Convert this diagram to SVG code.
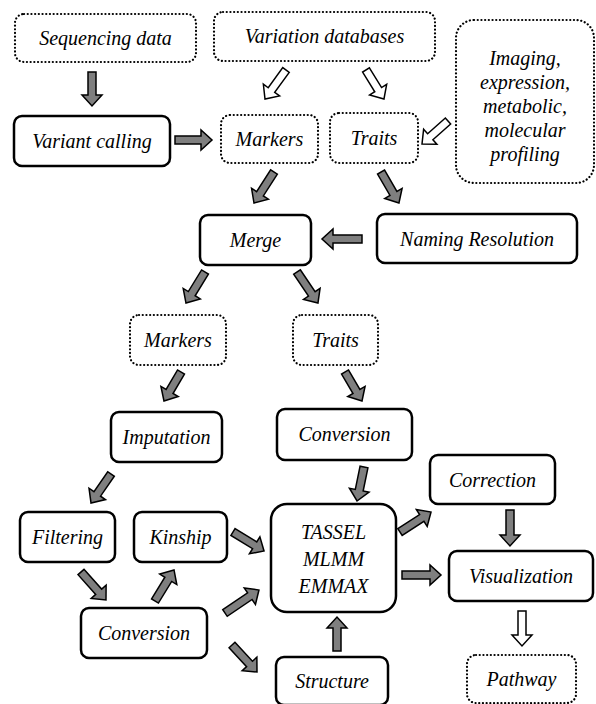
<svg xmlns="http://www.w3.org/2000/svg" width="596" height="704" viewBox="0 0 596 704">
<style>
.solid{fill:#fff;stroke:#000;stroke-width:2.5}
.dot{fill:#fff;stroke:#000;stroke-width:2.2;stroke-dasharray:0.1 3.6;stroke-linecap:round}
.ga{fill:#7f7f7f;stroke:#000;stroke-width:1.5}
.wa{fill:#fff;stroke:#000;stroke-width:1.5}
</style>
<g id="seq"><rect class="dot" x="15" y="14" width="181" height="48" rx="9"/><text font-family="Liberation Serif, Tinos, Times New Roman, serif" font-style="italic" font-size="20" text-anchor="middle" x="105.5" y="45">Sequencing data</text></g>
<g id="vardb"><rect class="dot" x="214" y="12" width="221" height="49" rx="9"/><text font-family="Liberation Serif, Tinos, Times New Roman, serif" font-style="italic" font-size="20" text-anchor="middle" x="324.5" y="43">Variation databases</text></g>
<g id="imaging"><rect class="dot" x="456" y="20" width="138" height="163" rx="18"/>
<text font-family="Liberation Serif, Tinos, Times New Roman, serif" font-style="italic" font-size="20" text-anchor="middle" x="525" y="65">Imaging,</text>
<text font-family="Liberation Serif, Tinos, Times New Roman, serif" font-style="italic" font-size="20" text-anchor="middle" x="525" y="89">expression,</text>
<text font-family="Liberation Serif, Tinos, Times New Roman, serif" font-style="italic" font-size="20" text-anchor="middle" x="525" y="113">metabolic,</text>
<text font-family="Liberation Serif, Tinos, Times New Roman, serif" font-style="italic" font-size="20" text-anchor="middle" x="525" y="137">molecular</text>
<text font-family="Liberation Serif, Tinos, Times New Roman, serif" font-style="italic" font-size="20" text-anchor="middle" x="525" y="161">profiling</text></g>
<g id="varcall"><rect class="solid" x="14" y="116" width="156" height="50" rx="8"/><text font-family="Liberation Serif, Tinos, Times New Roman, serif" font-style="italic" font-size="20" text-anchor="middle" x="92" y="148">Variant calling</text></g>
<g id="markers1"><rect class="dot" x="221" y="115" width="97" height="48" rx="9"/><text font-family="Liberation Serif, Tinos, Times New Roman, serif" font-style="italic" font-size="20" text-anchor="middle" x="269.5" y="146">Markers</text></g>
<g id="traits1"><rect class="dot" x="330" y="113" width="88" height="50" rx="9"/><text font-family="Liberation Serif, Tinos, Times New Roman, serif" font-style="italic" font-size="20" text-anchor="middle" x="374" y="145">Traits</text></g>
<g id="merge"><rect class="solid" x="200" y="215" width="111" height="50" rx="8"/><text font-family="Liberation Serif, Tinos, Times New Roman, serif" font-style="italic" font-size="20" text-anchor="middle" x="255.5" y="247">Merge</text></g>
<g id="naming"><rect class="solid" x="377" y="214" width="200" height="49" rx="8"/><text font-family="Liberation Serif, Tinos, Times New Roman, serif" font-style="italic" font-size="20" text-anchor="middle" x="477" y="246">Naming Resolution</text></g>
<g id="markers2"><rect class="dot" x="130" y="315" width="96" height="50" rx="9"/><text font-family="Liberation Serif, Tinos, Times New Roman, serif" font-style="italic" font-size="20" text-anchor="middle" x="178" y="347">Markers</text></g>
<g id="traits2"><rect class="dot" x="293" y="315" width="85" height="50" rx="9"/><text font-family="Liberation Serif, Tinos, Times New Roman, serif" font-style="italic" font-size="20" text-anchor="middle" x="335.5" y="347">Traits</text></g>
<g id="imputation"><rect class="solid" x="111" y="412" width="111" height="50" rx="8"/><text font-family="Liberation Serif, Tinos, Times New Roman, serif" font-style="italic" font-size="20" text-anchor="middle" x="166.5" y="444">Imputation</text></g>
<g id="conversion2"><rect class="solid" x="277" y="409" width="135" height="51" rx="8"/><text font-family="Liberation Serif, Tinos, Times New Roman, serif" font-style="italic" font-size="20" text-anchor="middle" x="344.5" y="441">Conversion</text></g>
<g id="correction"><rect class="solid" x="430" y="455" width="125" height="49" rx="8"/><text font-family="Liberation Serif, Tinos, Times New Roman, serif" font-style="italic" font-size="20" text-anchor="middle" x="492.5" y="487">Correction</text></g>
<g id="filtering"><rect class="solid" x="20" y="512" width="95" height="50" rx="8"/><text font-family="Liberation Serif, Tinos, Times New Roman, serif" font-style="italic" font-size="20" text-anchor="middle" x="67.5" y="544">Filtering</text></g>
<g id="kinship"><rect class="solid" x="134" y="512" width="93" height="50" rx="8"/><text font-family="Liberation Serif, Tinos, Times New Roman, serif" font-style="italic" font-size="20" text-anchor="middle" x="180.5" y="544">Kinship</text></g>
<g id="tassel"><rect class="solid" x="271" y="504" width="125" height="108" rx="16"/>
<text font-family="Liberation Serif, Tinos, Times New Roman, serif" font-style="italic" font-size="20" text-anchor="middle" x="333.5" y="539">TASSEL</text>
<text font-family="Liberation Serif, Tinos, Times New Roman, serif" font-style="italic" font-size="20" text-anchor="middle" x="333.5" y="566">MLMM</text>
<text font-family="Liberation Serif, Tinos, Times New Roman, serif" font-style="italic" font-size="20" text-anchor="middle" x="333.5" y="593">EMMAX</text></g>
<g id="visualization"><rect class="solid" x="449" y="551" width="144" height="50" rx="8"/><text font-family="Liberation Serif, Tinos, Times New Roman, serif" font-style="italic" font-size="20" text-anchor="middle" x="521" y="583">Visualization</text></g>
<g id="conversion1"><rect class="solid" x="81" y="608" width="126" height="50" rx="8"/><text font-family="Liberation Serif, Tinos, Times New Roman, serif" font-style="italic" font-size="20" text-anchor="middle" x="144" y="640">Conversion</text></g>
<g id="structure"><rect class="solid" x="276" y="657" width="112" height="48" rx="8"/><text font-family="Liberation Serif, Tinos, Times New Roman, serif" font-style="italic" font-size="20" text-anchor="middle" x="332" y="688">Structure</text></g>
<g id="pathway"><rect class="dot" x="467" y="655" width="109" height="48" rx="9"/><text font-family="Liberation Serif, Tinos, Times New Roman, serif" font-style="italic" font-size="20" text-anchor="middle" x="521.5" y="686">Pathway</text></g>
<g id="connectors">
<path class="ga" transform="translate(92,72) rotate(90)" d="M0,-4H23V-10L34,0L23,10V4H0Z"/>
<path class="ga" transform="translate(175,140) rotate(0)" d="M0,-4H26V-10L37,0L26,10V4H0Z"/>
<path class="wa" transform="translate(286,70) rotate(125.9)" d="M0,-4H24.8V-10L35.8,0L24.8,10V4H0Z"/>
<path class="wa" transform="translate(366,70) rotate(58.2)" d="M0,-4H23.1V-10L34.1,0L23.1,10V4H0Z"/>
<path class="wa" transform="translate(448,121) rotate(138.5)" d="M0,-4H23.7V-10L34.7,0L23.7,10V4H0Z"/>
<path class="ga" transform="translate(274,172) rotate(122.8)" d="M0,-4H25.9V-10L36.9,0L25.9,10V4H0Z"/>
<path class="ga" transform="translate(381,172) rotate(59.9)" d="M0,-4H24.8V-10L35.8,0L24.8,10V4H0Z"/>
<path class="ga" transform="translate(362,239) rotate(180)" d="M0,-4H29V-10L40,0L29,10V4H0Z"/>
<path class="ga" transform="translate(205,272) rotate(121.5)" d="M0,-4H25.4V-10L36.4,0L25.4,10V4H0Z"/>
<path class="ga" transform="translate(297,272) rotate(55.9)" d="M0,-4H26.4V-10L37.4,0L26.4,10V4H0Z"/>
<path class="ga" transform="translate(181,372) rotate(120.4)" d="M0,-4H22.6V-10L33.6,0L22.6,10V4H0Z"/>
<path class="ga" transform="translate(345,372) rotate(59.6)" d="M0,-4H22.6V-10L33.6,0L22.6,10V4H0Z"/>
<path class="ga" transform="translate(111,474) rotate(124.6)" d="M0,-4H24.2V-10L35.2,0L24.2,10V4H0Z"/>
<path class="ga" transform="translate(364,467) rotate(101.6)" d="M0,-4H23.7V-10L34.7,0L23.7,10V4H0Z"/>
<path class="ga" transform="translate(400,532) rotate(-32.8)" d="M0,-4H25.9V-10L36.9,0L25.9,10V4H0Z"/>
<path class="ga" transform="translate(510,510) rotate(90)" d="M0,-4H25V-10L36,0L25,10V4H0Z"/>
<path class="ga" transform="translate(402,575) rotate(0)" d="M0,-4H28V-10L39,0L28,10V4H0Z"/>
<path class="wa" transform="translate(522,611) rotate(90)" d="M0,-4H24V-10L35,0L24,10V4H0Z"/>
<path class="ga" transform="translate(337,651) rotate(-90)" d="M0,-4H23V-10L34,0L23,10V4H0Z"/>
<path class="ga" transform="translate(233,532) rotate(31.5)" d="M0,-4H25.4V-10L36.4,0L25.4,10V4H0Z"/>
<path class="ga" transform="translate(81,572) rotate(48.2)" d="M0,-4H26.5V-10L37.5,0L26.5,10V4H0Z"/>
<path class="ga" transform="translate(155,601) rotate(-58.5)" d="M0,-4H25.4V-10L36.4,0L25.4,10V4H0Z"/>
<path class="ga" transform="translate(225,613) rotate(-34.1)" d="M0,-4H30V-10L41,0L30,10V4H0Z"/>
<path class="ga" transform="translate(232,645) rotate(47.2)" d="M0,-4H25.8V-10L36.8,0L25.8,10V4H0Z"/>
</g>
</svg>
